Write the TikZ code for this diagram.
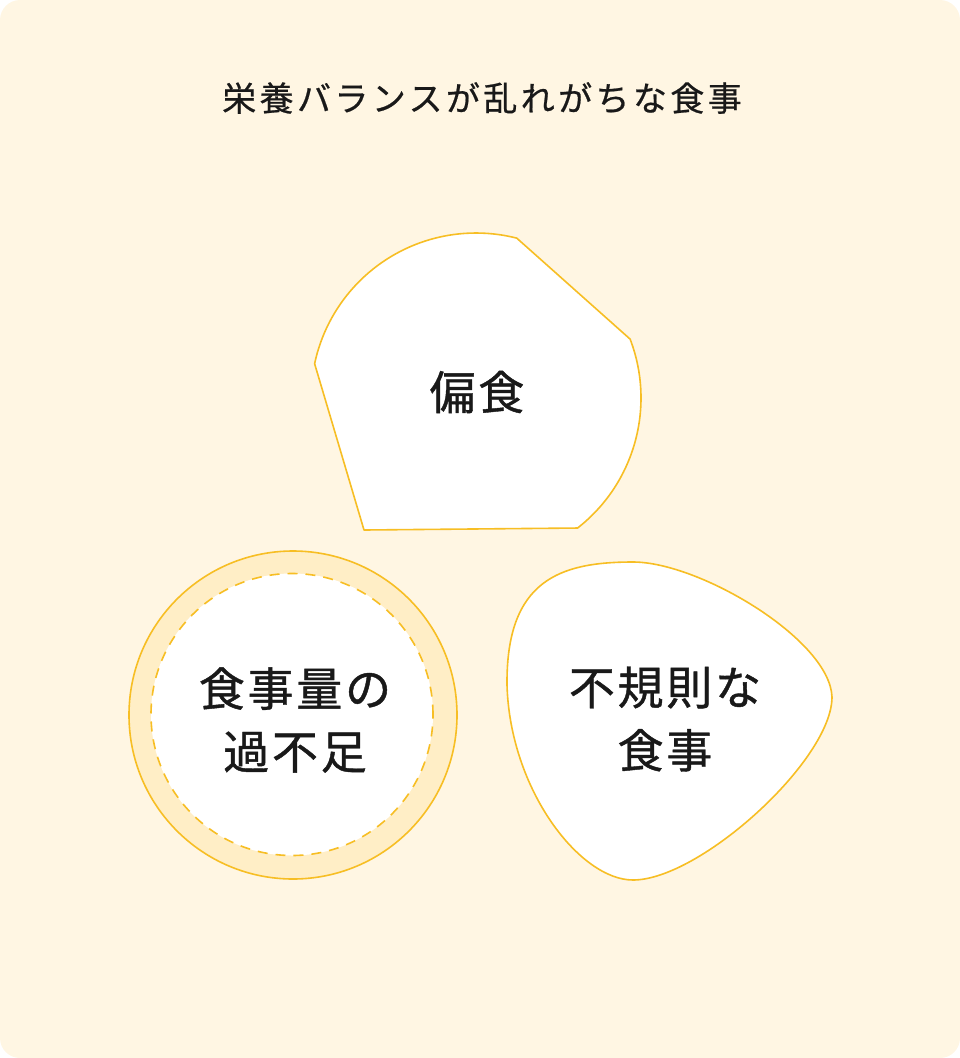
\documentclass[tikz,border=0pt]{standalone}
\usepackage{fontspec}
\newfontfamily\jptitle[FakeBold=0.6, LetterSpace=10]{Noto Sans CJK JP}
\newfontfamily\jplabel[FakeBold=0.9, LetterSpace=6]{Noto Sans CJK JP}
\usetikzlibrary{positioning}
\definecolor{bgcream}{HTML}{FFF6E3}
\definecolor{lineyellow}{HTML}{F7BE24}
\definecolor{ringfill}{HTML}{FFEEC6}
\tikzset{
  shapeline/.style={draw=lineyellow, line width=1.6, fill=white, line join=round},
  label/.style={font=\jplabel\fontsize{46}{63}\selectfont, align=center, text=black!90},
}

\begin{document}
\begin{tikzpicture}[x=1pt, y=1pt]
    \useasboundingbox (0,0) rectangle (960,-1058);
    \fill[bgcream, rounded corners=20] (0,0) rectangle (960,-1058);

    \node[font=\jptitle\fontsize{34}{40}\selectfont, text=black!90] (title) at (482,-98) {栄養バランスが乱れがちな食事};

    \coordinate (hc) at (476,-398);
    \draw[shapeline] ([shift={(75.7:165)}]hc) -- ([shift={(20.9:165)}]hc)
        arc[start angle=20.9, end angle=-52, radius=165] -- (364,-530)
        -- ([shift={(168:165)}]hc) arc[start angle=168, end angle=75.7, radius=165] -- cycle;
    \node[label] (henshoku) at (477,-392) {偏食};

    \draw[shapeline, fill=ringfill] (293,-715) circle[radius=164];
    \draw[draw=lineyellow, line width=1.6, fill=white, dash pattern=on 10 off 8] (292,-714.5) circle[radius=141];
    \node[label] (ryo) at (295,-720) {食事量の\\過不足};

    \draw[shapeline] (633,-562) .. controls (700,-562) and (830,-640) .. (832,-697)
        .. controls (832,-760) and (700,-880) .. (633,-880)
        .. controls (580,-880) and (510,-790) .. (507,-685)
        .. controls (506,-580) and (560,-562) .. (633,-562) -- cycle;
    \node[label] (kisoku) at (665,-719) {不規則な\\食事};
\end{tikzpicture}
\end{document}
